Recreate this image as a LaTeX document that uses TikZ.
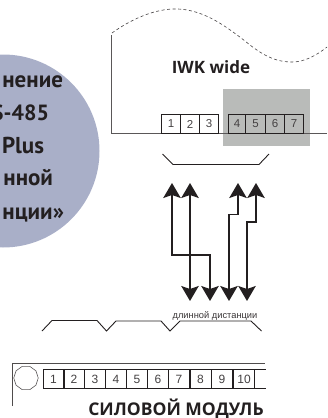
\documentclass[tikz,border=0pt]{standalone}
\usepackage{fontspec}
\setmainfont{PT Sans}
\newfontfamily\lab{Liberation Sans}
\newfontfamily\wide{Open Sans}
\usetikzlibrary{arrows.meta,shapes.geometric}
\definecolor{ink}{HTML}{231F20}
\definecolor{bluegrey}{HTML}{A9AFC8}
\definecolor{greybox}{HTML}{B9BBB9}
\tikzset{
  x=1pt,y=-1pt,
  every node/.style={inner sep=0pt,outer sep=0pt,text=ink},
  pin/.style={draw=ink,line width=0.8pt,minimum height=19pt,font=\lab\fontsize{11.5}{13}\selectfont,text=ink!85},
  wire/.style={draw=ink,line width=1.2pt,{Stealth[length=15pt,width=17.5pt,inset=3pt]}-{Stealth[length=15pt,width=17.5pt,inset=3pt]}},
  outline/.style={draw=ink!75,line width=0.9pt},
  title/.style={font=\bfseries\fontsize{23}{26}\selectfont,anchor=base east},
}
\begin{document}
\begin{tikzpicture}
\useasboundingbox (0,0) rectangle (327,418);
\clip (0,0) rectangle (327,418);
% blue disc with cropped title
\fill[bluegrey] (3,151) circle [radius=96.5];
\node[title] (t1) at (63,87) {нение};
\node[title,font=\bfseries\fontsize{22}{26}\selectfont] (t2) at (49,120) {S-485};
\node[title] (t3) at (44,153) {Plus};
\node[title] (t4) at (53,185) {нной};
\node[title] (t5) at (64,219) {нции»};
% upper module
\coordinate (ua) at (111.5,133.5);
\coordinate (ub) at (111.5,35);
\coordinate (uc) at (327,133.5);
\fill[greybox] (222.5,89) rectangle (309.5,146);
\draw[outline] (ub) -- (ua) -- (uc);
\draw[ink!85,line width=0.6pt,dash pattern=on 3pt off 2.5pt]
  (112,33) .. controls (130,20) and (155,8) .. (178,9)
  .. controls (205,10) and (228,28) .. (245,41)
  .. controls (262,55) and (275,62) .. (292,62)
  .. controls (305,62) and (317,55) .. (327,47);
\node[font=\wide\bfseries\fontsize{17}{19}\selectfont,anchor=base] (iwk) at (211,73) {IWK wide};
\foreach \n/\x/\w in {1/171/19,2/190/19,3/209/19,4/237/17.5,5/255.5/19.5,6/275/19,7/294/19}
  \node[pin,minimum width=\w pt] (u\n) at (\x,124) {\n};
% upper connector
\coordinate (b1) at (162.5,154);
\coordinate (b2) at (173,164.5);
\coordinate (b3) at (259,164.5);
\coordinate (b4) at (269,154);
\draw[ink,line width=0.9pt] (b1) -- (b2) -- (b3) -- (b4);
% lower connector
\coordinate (c0) at (42,331);
\coordinate (c1) at (52,320.5);
\coordinate (c2) at (97,320.5);
\coordinate (c3) at (106.5,331);
\coordinate (c4) at (116,321);
\coordinate (c5) at (161,321);
\coordinate (c6) at (170,331);
\coordinate (c7) at (180,321);
\coordinate (c8) at (251,321);
\coordinate (c9) at (261.5,331);
\draw[ink,line width=0.9pt] (c0) -- (c1) -- (c2) -- (c3) -- (c4) -- (c5) -- (c6) -- (c7) -- (c8) -- (c9);
\node[font=\lab\fontsize{9.3}{11}\selectfont,text=ink!90,anchor=base] (dd) at (215,318) {длинной дистанции};
% arrows
\coordinate (a1t) at (172,183);
\coordinate (a2t) at (190,183);
\coordinate (a3t) at (238,183);
\coordinate (a4t) at (256,183);
\coordinate (a1b) at (190,301);
\coordinate (a2b) at (210,301);
\coordinate (a3b) at (229,301);
\coordinate (a4b) at (247,301);
\draw[wire] (a2t) -- (a1b);
\draw[wire] (a1t) -- (172,255) -- (210,255) -- (a2b);
\draw[wire] (a3t) -- (238,214.5) -- (229,214.5) -- (a3b);
\draw[wire] (a4t) -- (256,222) -- (247,222) -- (a4b);
% power module
\coordinate (p0) at (12.5,406);
\coordinate (p1) at (12.5,363.5);
\coordinate (p2) at (265,363.5);
\draw[ink!80,line width=0.7pt] (p0) -- (p1) -- (p2);
\node[draw=ink!75,line width=0.6pt,regular polygon,regular polygon sides=10,minimum size=24.5pt] (hole) at (26,378) {};
\draw[ink,line width=1pt] (43,388.5) -- (265.5,388.5);
\draw[ink,line width=1pt] (43,369.5) -- (265.5,369.5);
\foreach \n/\x in {1/53.5,2/74,3/95,4/116,5/137,6/158,7/179,8/200.5,9/222,10/244}
  \node[draw=ink,line width=0.9pt,minimum width=21pt,minimum height=19pt,font=\lab\fontsize{12}{14}\selectfont,text=ink!85] (m\n) at (\x,379) {\n};
\node[font=\wide\bfseries\fontsize{17.5}{19}\selectfont,anchor=base] (pm) at (176,415) {СИЛОВОЙ МОДУЛЬ};
\end{tikzpicture}
\end{document}
